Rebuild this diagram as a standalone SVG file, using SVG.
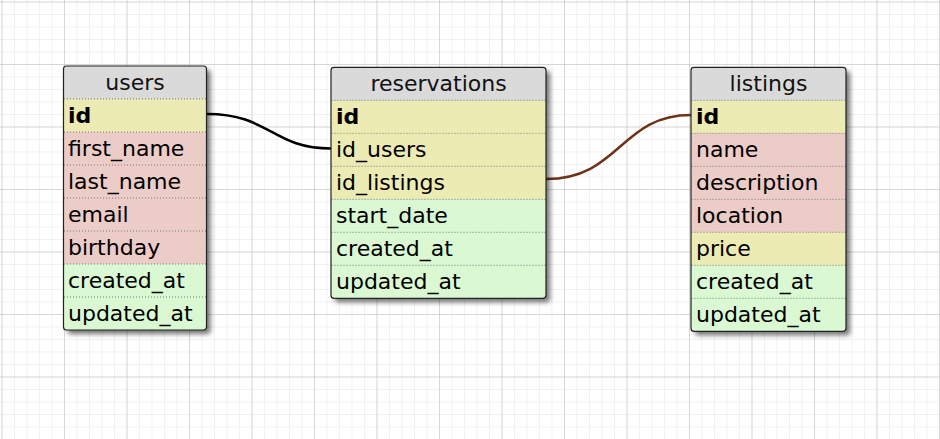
<svg xmlns="http://www.w3.org/2000/svg" width="940" height="439" viewBox="0 0 940 439">
<defs>
<pattern id="minor" x="1.5" y="1.5" width="12.5" height="12.5" patternUnits="userSpaceOnUse">
<path d="M0,0 H12.5 M0,0 V12.5" fill="none" stroke="#e4e4e4" stroke-width="1"/>
</pattern>
<pattern id="major" x="1.5" y="1.5" width="62.5" height="62.5" patternUnits="userSpaceOnUse">
<path d="M0,0 H62.5 M0,0 V62.5" fill="none" stroke="#bdbdbd" stroke-width="1"/>
</pattern>
<filter id="sh" x="-10%" y="-10%" width="130%" height="130%">
<feGaussianBlur in="SourceAlpha" stdDeviation="2.5"/>
<feOffset dx="4" dy="4" result="b"/>
<feComponentTransfer><feFuncA type="linear" slope="0.55"/></feComponentTransfer>
<feMerge><feMergeNode/><feMergeNode in="SourceGraphic"/></feMerge>
</filter>
</defs>
<style>
text{font-family:"DejaVu Sans","Liberation Sans",sans-serif;font-size:22px;fill:#000}
.hd{text-anchor:middle;fill:#111}
.pk{font-weight:bold}
.h{fill:#dadada}
.y{fill:#ecebb4}
.p{fill:#ecccc7}
.g{fill:#daf8d2}
.sep{stroke:#777;stroke-width:1;stroke-dasharray:1,2}
.frame{fill:none;stroke:#222;stroke-width:1.2}
.conn{fill:none;stroke-width:2.5}
</style>
<rect width="940" height="439" fill="#fff"/>
<rect width="940" height="439" fill="url(#minor)"/>
<rect width="940" height="439" fill="url(#major)"/>

<g id="connectors">
<path class="conn" stroke="#000" d="M207,114 C270,114 272,148.5 331,148.5"/>
<path class="conn" stroke="#6e3219" d="M546,179 C620,179 620,115 691,115"/>
</g>

<g id="users">
<rect x="63.5" y="66" width="143" height="264" rx="3" fill="#dadada" filter="url(#sh)"/>
<rect class="h" x="63.5" y="66" width="143" height="33"/>
<rect class="y" x="63.5" y="99" width="143" height="33"/>
<rect class="p" x="63.5" y="132" width="143" height="132"/>
<rect class="g" x="63.5" y="264" width="143" height="66"/>
<path class="sep" d="M64,99H206M64,132H206M64,165H206M64,198H206M64,231H206M64,264H206M64,297H206"/>
<rect class="frame" x="63.5" y="66" width="143" height="264" rx="3"/>
<text class="hd" x="135" y="90">users</text>
<text class="pk" x="68" y="123">id</text>
<text x="68" y="156">first_name</text>
<text x="68" y="189">last_name</text>
<text x="68" y="222">email</text>
<text x="68" y="255">birthday</text>
<text x="68" y="288">created_at</text>
<text x="68" y="321">updated_at</text>
</g>

<g id="reservations">
<rect x="331" y="67.3" width="215" height="231" rx="3" fill="#dadada" filter="url(#sh)"/>
<rect class="h" x="331" y="67.3" width="215" height="33"/>
<rect class="y" x="331" y="100.3" width="215" height="99"/>
<rect class="g" x="331" y="199.3" width="215" height="99"/>
<path class="sep" d="M331.5,100.3H545.5M331.5,133.3H545.5M331.5,166.3H545.5M331.5,199.3H545.5M331.5,232.3H545.5M331.5,265.3H545.5"/>
<rect class="frame" x="331" y="67.3" width="215" height="231" rx="3"/>
<text class="hd" x="438.5" y="91.3">reservations</text>
<text class="pk" x="336" y="124.3">id</text>
<text x="336" y="157.3">id_users</text>
<text x="336" y="190.3">id_listings</text>
<text x="336" y="223.3">start_date</text>
<text x="336" y="256.3">created_at</text>
<text x="336" y="289.3">updated_at</text>
</g>

<g id="listings">
<rect x="691" y="67.3" width="155" height="264" rx="3" fill="#dadada" filter="url(#sh)"/>
<rect class="h" x="691" y="67.3" width="155" height="33"/>
<rect class="y" x="691" y="100.3" width="155" height="33"/>
<rect class="p" x="691" y="133.3" width="155" height="99"/>
<rect class="y" x="691" y="232.3" width="155" height="33"/>
<rect class="g" x="691" y="265.3" width="155" height="66"/>
<path class="sep" d="M691.5,100.3H845.5M691.5,133.3H845.5M691.5,166.3H845.5M691.5,199.3H845.5M691.5,232.3H845.5M691.5,265.3H845.5M691.5,298.3H845.5"/>
<rect class="frame" x="691" y="67.3" width="155" height="264" rx="3"/>
<text class="hd" x="768.5" y="91.3">listings</text>
<text class="pk" x="696" y="124.3">id</text>
<text x="696" y="157.3">name</text>
<text x="696" y="190.3">description</text>
<text x="696" y="223.3">location</text>
<text x="696" y="256.3">price</text>
<text x="696" y="289.3">created_at</text>
<text x="696" y="322.3">updated_at</text>
</g>
</svg>
